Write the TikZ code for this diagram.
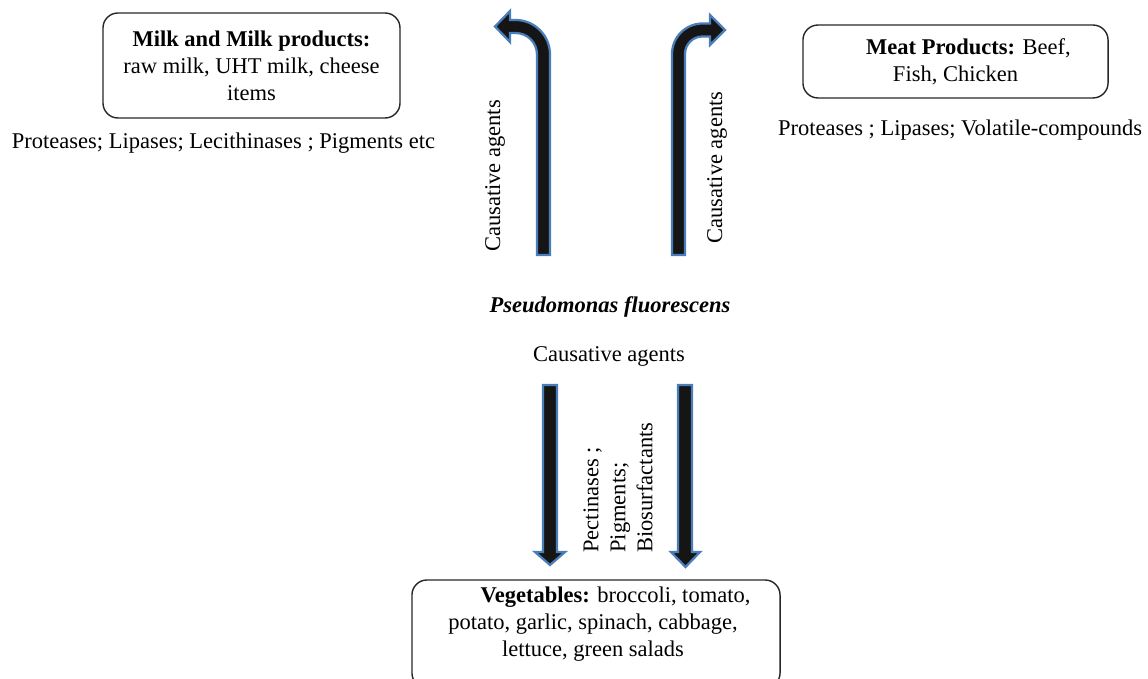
\documentclass[tikz,border=0pt]{standalone}
\usepackage{fontspec}
\setmainfont{Liberation Serif}
\definecolor{arrowfill}{HTML}{151515}
\definecolor{arrowedge}{HTML}{4A7EBB}
\usepackage{tikz}

\begin{document}
\begin{tikzpicture}[x=0.5333pt, y=-0.5333pt, font=\fontsize{12}{14.4}\selectfont,
    foodbox/.style={draw=black!85, line width=0.75pt, rounded corners=8pt, inner sep=0pt, align=center},
    blockarrow/.style={fill=arrowfill, draw=arrowedge, line width=1.2pt}]
        \clip (0,0) rectangle (1148,679);
        % food groups
        \node[foodbox, minimum width=158.4pt, minimum height=56pt]
          (milk) at (251.5,65.5) {\textbf{Milk and Milk products:}\\raw milk, UHT milk, cheese\\items};
        \node[foodbox, minimum width=162.7pt, minimum height=38.9pt]
          (meat) at (955.5,61.5) {\hspace*{1.15em}\textbf{Meat Products:} Beef,\\Fish, Chicken};
        \node[foodbox, minimum width=196.3pt, minimum height=57.6pt]
          (vegbox) at (596,634) {};
        \node[align=center, inner sep=0pt]
          (vegtext) at (593,624) {\hspace*{2em}\textbf{Vegetables:} broccoli, tomato,\\potato, garlic, spinach, cabbage,\\lettuce, green salads};
        % spoilage products
        \node[anchor=base] (milkagents) at (223.5,149) {Proteases; Lipases; Lecithinases ; Pigments etc};
        \node[anchor=base] (meatagents) at (960,136) {Proteases ; Lipases; Volatile-compounds};
        % the bacterium
        \node[anchor=base, font=\fontsize{12}{14.4}\selectfont\bfseries\itshape]
          (pf) at (610,313) {Pseudomonas fluorescens};
        \node[anchor=base] (vegcause) at (609,362) {Causative agents};
        \node[anchor=base, rotate=90] (milkcause) at (500,176) {Causative agents};
        \node[anchor=base, rotate=90] (meatcause) at (722,167.5) {Causative agents};
        \node[anchor=north west, rotate=90, align=left, inner sep=0pt]
          (vegagents) at (583,553) {Pectinases ;\\Pigments;\\Biosurfactants};
        % bent arrows up to milk and meat
        \coordinate (upL) at (537,255);
        \coordinate (upR) at (672,255);
        \draw[blockarrow] (upL) -- ++(0,-200.5)
          .. controls +(0,-11.9) and +(11.9,0) .. ++(-21.5,-21.5)
          -- ++(-5.5,0) -- ++(0,9) -- ++(-15,-15.5) -- ++(15,-15.5) -- ++(0,9) -- ++(5.5,0)
          .. controls +(19.05,0) and +(0,-19.05) .. ++(34.5,34.5)
          -- ++(0,200.5) -- cycle;
        \draw[blockarrow] (upR) -- ++(0,-201)
          .. controls +(0,-16.8) and +(-16.8,0) .. ++(30.5,-30.5)
          -- ++(7.5,0) -- ++(0,-8.5) -- ++(15,15) -- ++(-15,15) -- ++(0,-8.5) -- ++(-7.5,0)
          .. controls +(-9.7,0) and +(0,-9.7) .. ++(-17.5,17.5)
          -- ++(0,201) -- cycle;
        % straight arrows down to vegetables
        \coordinate (downL) at (543,385);
        \coordinate (downR) at (678,385);
        \draw[blockarrow] (downL) -- ++(0,167) -- ++(-8,0) -- ++(15,13) -- ++(15,-13) -- ++(-8,0) -- ++(0,-167) -- cycle;
        \draw[blockarrow] (downR) -- ++(0,167) -- ++(-7,0) -- ++(14.5,15) -- ++(14.5,-15) -- ++(-8,0) -- ++(0,-167) -- cycle;
      \end{tikzpicture}
\end{document}
